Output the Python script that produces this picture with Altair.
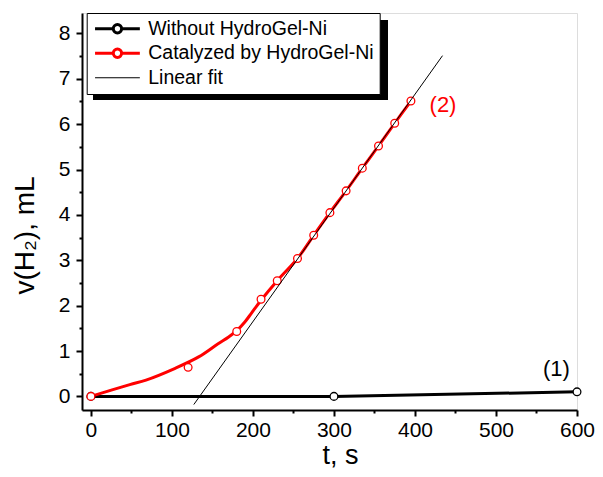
import altair as alt
import pandas as pd

# ---------------- data ----------------
names = ["Without HydroGel-Ni", "Catalyzed by HydroGel-Ni", "Linear fit"]
colors = ["#000000", "#ff0000", "#000000"]
line_widths = [3, 3, 1]

# (1) without catalyst
t_without = [0, 300, 600]
v_without = [0.0, 0.0, 0.1]

# (2) catalyzed: measured points
t_cat = [0, 120, 180, 210, 230, 255, 275, 295, 315, 335, 355, 375, 395]
v_cat = [0.0, 0.64, 1.43, 2.14, 2.55, 3.04, 3.55, 4.05, 4.53, 5.03, 5.52, 6.02, 6.51]

# (2) catalyzed: smoothed curve
t_cat_curve = [0, 48, 68, 104, 133, 157, 170, 180, 190, 198, 210, 230, 255, 275, 295, 315,
               335, 355, 375, 395]
v_cat_curve = [0.0, 0.26, 0.36, 0.62, 0.87, 1.16, 1.31, 1.45, 1.64, 1.83, 2.12, 2.55, 3.04,
               3.55, 4.05, 4.53, 5.03, 5.52, 6.02, 6.51]

# linear fit
t_fit = [127, 434]
v_fit = [-0.18, 7.51]

# annotations
ann_text = ["(2)", "(1)"]
ann_t = [418, 558]
ann_v = [6.43, 0.6]
ann_color = ["#ff0000", "#000000"]

x_ticks = [0, 100, 200, 300, 400, 500, 600]
x_minor = [50, 150, 250, 350, 450, 550]
y_ticks = [0, 1, 2, 3, 4, 5, 6, 7, 8]
y_minor = [0.5, 1.5, 2.5, 3.5, 4.5, 5.5, 6.5, 7.5]
x_domain = [-11, 600]
y_domain = [-0.3, 8.45]

# legend symbol shapes (line - open circle - line) and plain line
sym_marker = "M-2.8,0H-0.52M0.52,0H2.8M0.52,0A0.52,0.52,0,1,1,-0.52,0A0.52,0.52,0,1,1,0.52,0"
sym_line = "M-2.8,0H2.8"

# ---------------- tables ----------------
df_without = pd.DataFrame({"t": t_without, "v": v_without, "series": names[0]})
df_curve = pd.DataFrame({"t": t_cat_curve, "v": v_cat_curve, "series": names[1]})
df_fit = pd.DataFrame({"t": t_fit, "v": v_fit, "series": names[2]})
df_pts_without = pd.DataFrame({"t": t_without, "v": v_without, "series": names[0]})
df_pts_cat = pd.DataFrame({"t": t_cat, "v": v_cat, "series": names[1]})
df_ann = pd.DataFrame({"t": ann_t, "v": ann_v, "label": ann_text, "c": ann_color})

FONT = "Liberation Sans"

xscale = alt.Scale(domain=x_domain, nice=False, zero=False)
yscale = alt.Scale(domain=y_domain, nice=False, zero=False)
cscale = alt.Scale(domain=names, range=colors)

x_main_axis = alt.Axis(
    values=x_ticks, tickSize=6, tickWidth=2, tickColor="black",
    domainColor="black", domainWidth=2, grid=False,
    labelFont=FONT, labelFontSize=21, labelColor="black", labelPadding=3,
    labelFlush=False, labelOverlap=False,
    title="t, s", titleFont=FONT, titleFontSize=27, titleFontWeight="normal",
    titleColor="black", titleBaseline="alphabetic", titleAlign="center",
    titleX=258, titleY=53, orient="bottom",
)
y_main_axis = alt.Axis(
    values=y_ticks, tickSize=6, tickWidth=2, tickColor="black",
    domainColor="black", domainWidth=2, grid=False,
    labelFont=FONT, labelFontSize=21, labelColor="black", labelPadding=6,
    labelOverlap=False,
    title="v(H₂), mL", titleFont=FONT, titleFontSize=28, titleFontWeight="normal",
    titleColor="black", titleAngle=270, titleBaseline="alphabetic", titleAlign="center",
    titleX=-49, titleY=222, orient="left",
)
x_minor_axis = alt.Axis(values=x_minor, tickSize=3, tickWidth=2, tickColor="black",
                        labels=False, domain=False, grid=False, title=None, orient="bottom")
y_minor_axis = alt.Axis(values=y_minor, tickSize=3, tickWidth=2, tickColor="black",
                        labels=False, domain=False, grid=False, title=None, orient="left")

X = lambda ax=None: alt.X("t:Q", scale=xscale, axis=ax)
Y = lambda ax=None: alt.Y("v:Q", scale=yscale, axis=ax)

# legend shadow (decoration behind the legend box)
shadow = alt.Chart(pd.DataFrame({"k": [0]})).mark_rect(color="black").encode(
    x=alt.value(11), x2=alt.value(306), y=alt.value(7), y2=alt.value(87)
)

line_without = alt.Chart(df_without).mark_line(
    strokeWidth=line_widths[0], color=colors[0]
).encode(x=X(x_main_axis), y=Y(y_main_axis))

line_curve = alt.Chart(df_curve).mark_line(
    strokeWidth=line_widths[1], color=colors[1], interpolate="catmull-rom"
).encode(x=X(), y=Y())

pts_without = alt.Chart(df_pts_without).mark_point(
    filled=False, fill="white", size=60, strokeWidth=1.3, opacity=1, color=colors[0]
).encode(x=X(), y=Y())

pts_cat = alt.Chart(df_pts_cat).mark_point(
    filled=False, fill="white", size=60, strokeWidth=1.3, opacity=1, color=colors[1]
).encode(x=X(), y=Y())

line_fit = alt.Chart(df_fit).mark_line(
    strokeWidth=line_widths[2], color=colors[2]
).encode(x=X(), y=Y())

ann = alt.Chart(df_ann).mark_text(
    align="left", baseline="middle", font=FONT, fontSize=22
).encode(
    x=X(), y=Y(),
    text="label:N",
    color=alt.Color("c:N", scale=None),
)

leg = alt.Legend(
    title=None, orient="none", legendX=4.7, legendY=0,
    fillColor="white", strokeColor="black", padding=6,
    labelFont=FONT, labelFontSize=19.5, labelColor="black", labelLimit=400,
    symbolSize=256, symbolOffset=15, labelOffset=21, rowPadding=3.5,
)

legend_layer = alt.Chart(df_pts_cat).transform_filter("datum.t < -1000").mark_point(
    filled=False, opacity=1
).encode(
    x=X(x_minor_axis),
    y=Y(y_minor_axis),
    color=alt.Color("series:N", scale=cscale, legend=leg),
    shape=alt.Shape("series:N", scale=alt.Scale(domain=names, range=[sym_marker, sym_marker, sym_line]), legend=leg),
    strokeWidth=alt.StrokeWidth("series:N", scale=alt.Scale(type="ordinal", domain=names, range=line_widths), legend=leg),
)

chart = alt.layer(
    shadow, line_without, line_curve, pts_without, pts_cat, line_fit, ann, legend_layer
).resolve_axis(x="independent", y="independent").properties(
    width=495, height=397,
    padding={"left": 74, "top": 5, "right": 18, "bottom": 59},
    autosize=alt.AutoSizeParams(type="none"),
).configure_view(stroke="black", strokeWidth=2).configure(font=FONT, background="white")

chart.save("out.html", embed_options={"renderer": "svg", "actions": False})
